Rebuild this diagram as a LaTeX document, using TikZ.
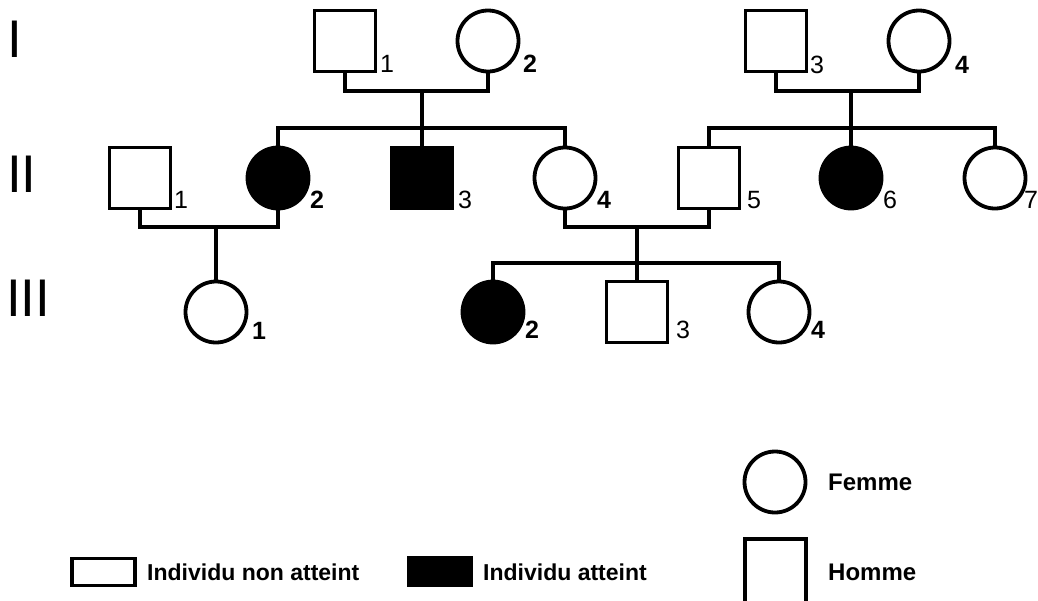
\documentclass[tikz,border=0pt]{standalone}
\usepackage{fontspec}
\setmainfont{Liberation Sans}
\begin{document}
\begin{tikzpicture}[x=1pt,y=-1pt,
  lw/.style={line width=3.8pt},
  male/.style={draw,lw,rectangle,minimum width=61pt,minimum height=61pt,inner sep=0pt},
  female/.style={draw,lw,circle,minimum size=61pt,inner sep=0pt},
  aff/.style={fill=black},
  link/.style={lw,line join=miter},
  gen/.style={anchor=base west,inner sep=0pt,font=\fontsize{53}{60}\selectfont},
  num/.style={anchor=base west,inner sep=0pt,font=\fontsize{25}{27}\selectfont},
  numb/.style={num,font=\fontsize{25}{27}\selectfont\bfseries},
  leg/.style={anchor=west,inner sep=0pt,font=\fontsize{23}{26}\selectfont\bfseries}]
\useasboundingbox (0,0) rectangle (1038,600);
\clip (0,0) rectangle (1038,600);

% generation labels
\node[gen] (gI) at (7,57) {I};
\node[gen] (gII) at (7,192) {II};
\node[gen] (gIII) at (6,316) {III};

% generation I
\node[male] (I1) at (345,41) {};
\node[female] (I2) at (488,41) {};
\node[male] (I3) at (776,41) {};
\node[female] (I4) at (919,41) {};

% generation II
\node[male] (II1) at (140,178) {};
\node[female,aff] (II2) at (278,178) {};
\node[male,aff] (II3) at (422,178) {};
\node[female] (II4) at (565,178) {};
\node[male] (II5) at (709,178) {};
\node[female,aff] (II6) at (851,178) {};
\node[female] (II7) at (995,178) {};

% generation III
\node[female] (III1) at (216,312) {};
\node[female,aff] (III2) at (493,312) {};
\node[male] (III3) at (637,312) {};
\node[female] (III4) at (779,312) {};

% numbers
\node[num] (n11) at (380,72) {1};
\node[numb] (n12) at (523,72) {2};
\node[num] (n13) at (810,73) {3};
\node[numb] (n14) at (955,73) {4};
\node[num] (n21) at (174,208) {1};
\node[numb] (n22) at (310,208) {2};
\node[num] (n23) at (458,208) {3};
\node[numb] (n24) at (597,208) {4};
\node[num] (n25) at (747,208) {5};
\node[num] (n26) at (883,208) {6};
\node[num] (n27) at (1024,208) {7};
\node[numb] (n31) at (252,339) {1};
\node[numb] (n32) at (525,338) {2};
\node[num] (n33) at (676,338) {3};
\node[numb] (n34) at (811,338) {4};

% junction points
\coordinate (m1) at (422,91);
\coordinate (s1) at (422,128);
\coordinate (m2) at (851,91);
\coordinate (s2) at (851,128);
\coordinate (m3) at (216,227);
\coordinate (m4) at (637,227);
\coordinate (s3) at (637,263);

% connectors
\draw[link] (I1.south) |- (m1) -| (I2.south);
\draw[link] (m1) -- (II3.north);
\draw[link] (II2.north) |- (s1) -| (II4.north);
\draw[link] (I3.south) |- (m2) -| (I4.south);
\draw[link] (m2) -- (II6.north);
\draw[link] (II5.north) |- (s2) -| (II7.north);
\draw[link] (II1.south) |- (m3) -| (II2.south);
\draw[link] (m3) -- (III1.north);
\draw[link] (II4.south) |- (m4) -| (II5.south);
\draw[link] (m4) -- (III3.north);
\draw[link] (III2.north) |- (s3) -| (III4.north);

% legend
\node[female] (lf) at (775,482) {};
\node[leg,font=\fontsize{24}{26}\selectfont\bfseries] (lft) at (828,482) {Femme};
\node[draw,lw,rectangle,minimum width=61pt,minimum height=80pt,inner sep=0pt] (lm) at (775.5,579) {};
\node[leg,font=\fontsize{24}{26}\selectfont\bfseries] (lmt) at (828,572) {Homme};
\node[draw,lw,rectangle,minimum width=63pt,minimum height=27pt,inner sep=0pt] (lu) at (103.5,572) {};
\node[leg] (lut) at (147,572) {Individu non atteint};
\node[draw,lw,fill=black,rectangle,minimum width=62pt,minimum height=27pt,inner sep=0pt] (la) at (440,571.5) {};
\node[leg] (lat) at (483,572) {Individu atteint};
\end{tikzpicture}
\end{document}
